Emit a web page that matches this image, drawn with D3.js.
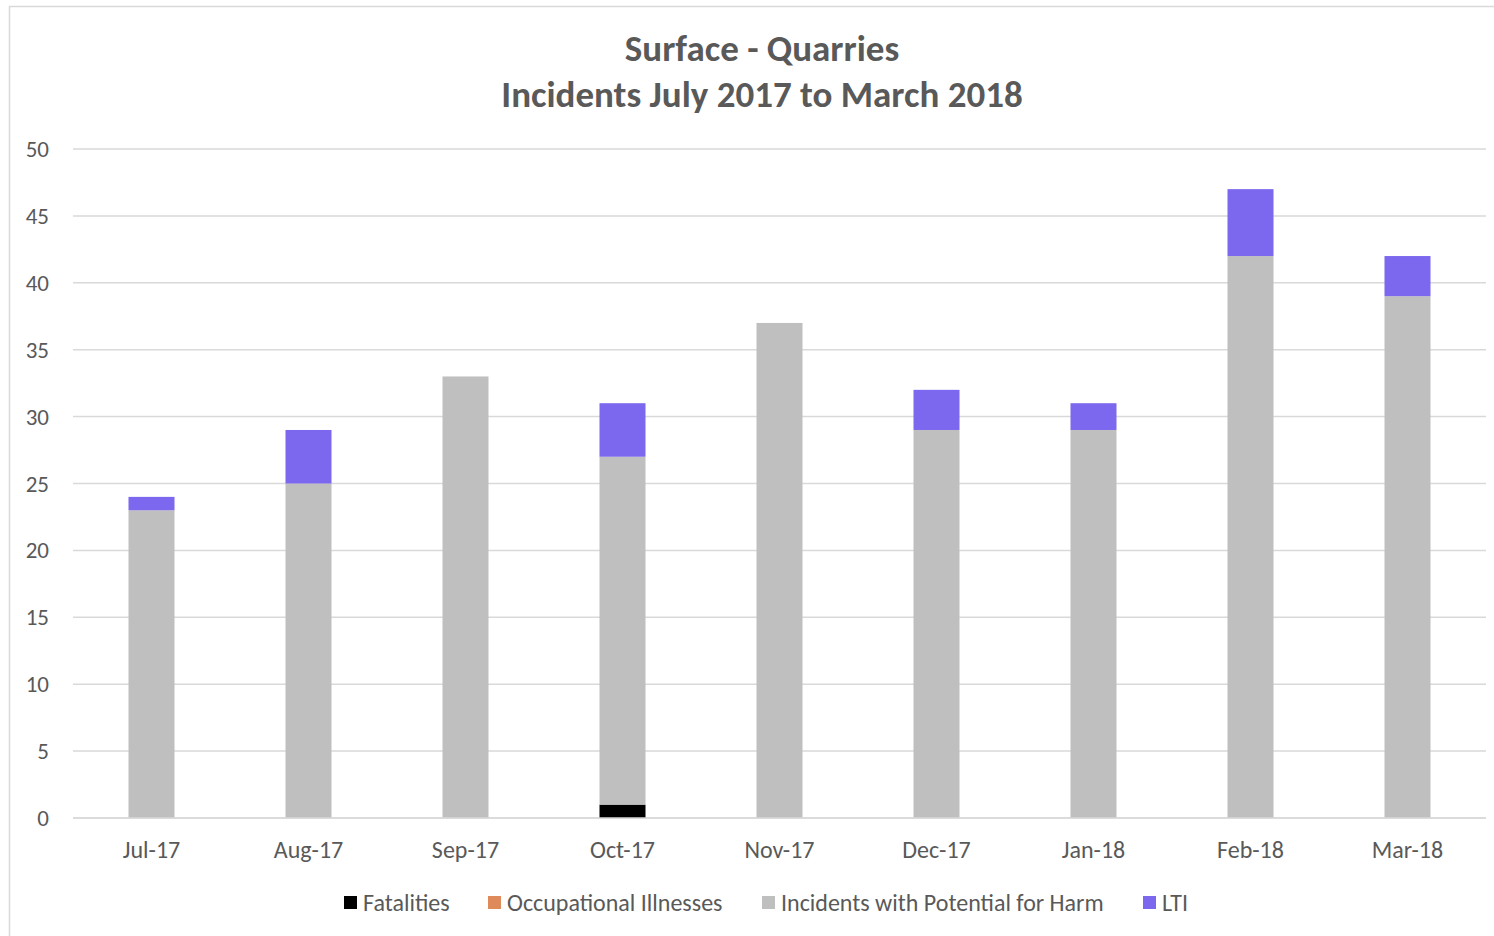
<!DOCTYPE html>
<html><head><meta charset="utf-8">
<script src="https://cdn.jsdelivr.net/npm/d3@7"></script>
<style>body{margin:0;background:#fff;} svg{display:block;font-family:Carlito,Calibri,Lato,"Open Sans",sans-serif;}</style>
</head><body>
<svg id="c" width="1494" height="936"></svg>
<script>
const categories = ["Jul-17","Aug-17","Sep-17","Oct-17","Nov-17","Dec-17","Jan-18","Feb-18","Mar-18"];
const fatalities = [0,0,0,1,0,0,0,0,0];
const occupationalIllnesses = [0,0,0,0,0,0,0,0,0];
const incidentsPotentialHarm = [23,25,33,26,37,29,29,42,39];
const lti = [1,4,0,4,0,3,2,5,3];
const seriesNames = ["Fatalities","Occupational Illnesses","Incidents with Potential for Harm","LTI"];
const seriesColors = ["#000000","#DE8A5A","#BFBFBF","#7B68EE"];
const yTicks = [0,5,10,15,20,25,30,35,40,45,50];

(function(){
const svg = d3.select("#c");
svg.append("rect").attr("x",9.5).attr("y",6.5).attr("width",1500).attr("height",1000)
  .attr("fill","#fff").attr("stroke","#D9D9D9").attr("stroke-width",1.5);

const pL=73, pR=1486, pT=149, pB=818;
const x = d3.scaleBand().domain(categories).range([pL,pR]).paddingInner(0.707).paddingOuter(0.3535);
const y = d3.scaleLinear().domain([0,50]).range([pB,pT]);

svg.append("g").selectAll("line").data(yTicks).join("line")
  .attr("x1",pL).attr("x2",pR).attr("y1",d=>y(d)).attr("y2",d=>y(d))
  .attr("stroke","#D9D9D9").attr("stroke-width",1.5);

svg.append("g").selectAll("text").data(yTicks).join("text")
  .attr("x",49).attr("y",d=>y(d)).attr("dy","0.35em").attr("text-anchor","end")
  .attr("font-size",23).attr("fill","#595959").text(d=>d);

const rows = categories.map((c,i)=>({cat:c,"Fatalities":fatalities[i],"Occupational Illnesses":occupationalIllnesses[i],
  "Incidents with Potential for Harm":incidentsPotentialHarm[i],"LTI":lti[i]}));
const stack = d3.stack().keys(seriesNames)(rows);
svg.append("g").selectAll("g").data(stack).join("g").attr("fill",(d,i)=>seriesColors[i])
  .selectAll("rect").data(d=>d.filter(p=>p[1]-p[0]>0)).join("rect")
  .attr("x",d=>x(d.data.cat)).attr("width",x.bandwidth())
  .attr("y",d=>y(d[1])).attr("height",d=>y(d[0])-y(d[1]));

svg.append("line").attr("x1",pL).attr("x2",pR).attr("y1",pB).attr("y2",pB)
  .attr("stroke","#D9D9D9").attr("stroke-width",1.5);

svg.append("g").selectAll("text").data(categories).join("text")
  .attr("x",d=>x(d)+x.bandwidth()/2).attr("y",858).attr("text-anchor","middle")
  .attr("font-size",24).attr("fill","#595959").text(d=>d);

svg.append("text").attr("x",762).attr("y",61).attr("text-anchor","middle")
  .attr("font-size",37).attr("font-weight","bold").attr("fill","#595959").text("Surface - Quarries");
svg.append("text").attr("x",762).attr("y",107).attr("text-anchor","middle")
  .attr("font-size",37).attr("font-weight","bold").attr("fill","#595959").text("Incidents July 2017 to March 2018");

const legX = [344,488,762,1143];
const lg = svg.append("g").selectAll("g").data(seriesNames).join("g")
  .attr("transform",(d,i)=>`translate(${legX[i]},896)`);
lg.append("rect").attr("width",13).attr("height",13).attr("fill",(d,i)=>seriesColors[i]);
lg.append("text").attr("x",19).attr("y",6.5).attr("dy","0.35em").attr("font-size",24).attr("fill","#595959").text(d=>d);
})();
</script>
</body></html>
